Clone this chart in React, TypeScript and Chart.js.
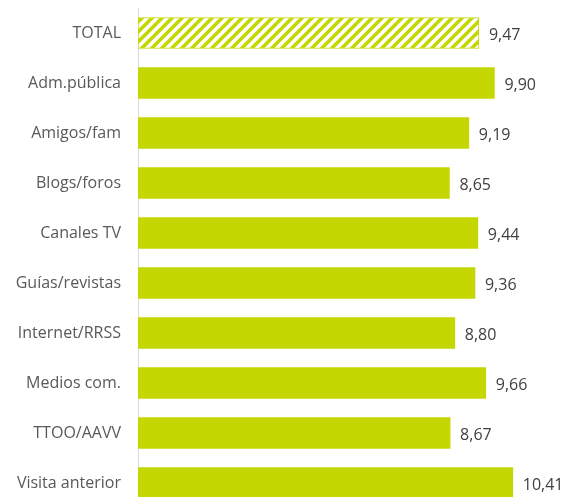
import React, { useEffect, useRef } from "react";
import { Chart, registerables } from "chart.js";

Chart.register(...registerables);

const categories = [
  "TOTAL",
  "Adm.pública",
  "Amigos/fam",
  "Blogs/foros",
  "Canales TV",
  "Guías/revistas",
  "Internet/RRSS",
  "Medios com.",
  "TTOO/AAVV",
  "Visita anterior",
];
const values = [9.47, 9.9, 9.19, 8.65, 9.44, 9.36, 8.8, 9.66, 8.67, 10.41];

const GREEN = "#C5D700";
const FONT = "'Open Sans', sans-serif";

function makeHatch(): CanvasPattern | string {
  const p = 10;
  const c = document.createElement("canvas");
  c.width = p;
  c.height = p;
  const ctx = c.getContext("2d");
  if (!ctx) return GREEN;
  ctx.fillStyle = "#ffffff";
  ctx.fillRect(0, 0, p, p);
  ctx.strokeStyle = GREEN;
  ctx.lineWidth = 3.6;
  ctx.beginPath();
  ctx.moveTo(-3, p + 3);
  ctx.lineTo(p + 3, -3);
  ctx.moveTo(-3, 3);
  ctx.lineTo(3, -3);
  ctx.moveTo(p - 3, p + 3);
  ctx.lineTo(p + 3, p - 3);
  ctx.stroke();
  return ctx.createPattern(c, "repeat") || GREEN;
}

const valueLabels = {
  id: "valueLabels",
  afterDatasetsDraw(chart: any) {
    const ctx = chart.ctx;
    const meta = chart.getDatasetMeta(0);
    ctx.save();
    ctx.font = `16px ${FONT}`;
    ctx.fillStyle = "#404040";
    ctx.textAlign = "left";
    ctx.textBaseline = "middle";
    meta.data.forEach((el: any, i: number) => {
      const v = values[i];
      ctx.fillText(v.toFixed(2).replace(".", ","), el.x + 10, el.y + 2);
    });
    ctx.restore();
  },
};

export default function App() {
  const ref = useRef<HTMLCanvasElement | null>(null);

  useEffect(() => {
    document.body.style.margin = "0";
    const canvas = ref.current;
    if (!canvas) return;
    const hatch = makeHatch();
    const chart = new Chart(canvas, {
      type: "bar",
      data: {
        labels: categories,
        datasets: [
          {
            data: values,
            backgroundColor: values.map((_, i) => (i === 0 ? hatch : GREEN)) as any,
            borderColor: GREEN,
            borderWidth: values.map((_, i) => (i === 0 ? 1 : 0)),
            borderSkipped: false,
            barThickness: 31,
          },
        ],
      },
      options: {
        indexAxis: "y",
        responsive: false,
        animation: false,
        devicePixelRatio: 1,
        layout: { padding: { top: 8, bottom: 2, left: 0, right: 30 } },
        plugins: {
          legend: { display: false },
          tooltip: { enabled: false },
        },
        scales: {
          x: {
            display: false,
            min: 0,
            max: 11,
          },
          y: {
            afterFit: (scale: any) => {
              scale.width = 138;
              scale.paddingTop = 0;
              scale.paddingBottom = 0;
            },
            grid: { display: false, drawTicks: false },
            border: { display: true, color: "#D9D9D9", width: 1 },
            ticks: {
              padding: 17,
              color: "#595959",
              font: { family: FONT, size: 16 },
            },
          },
        },
      },
      plugins: [valueLabels],
    });
    return () => chart.destroy();
  }, []);

  return (
    <div style={{ width: 564, height: 497, overflow: "hidden" }}>
      <canvas ref={ref} width={564} height={510} style={{ display: "block" }} />
    </div>
  );
}
